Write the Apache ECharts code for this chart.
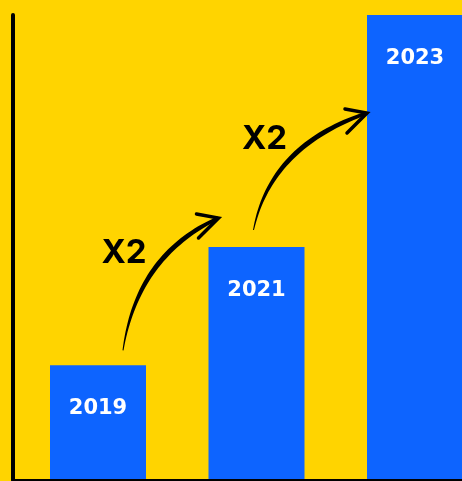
<!DOCTYPE html>
<html>
<head>
<meta charset="utf-8">
<script src="https://cdn.jsdelivr.net/npm/echarts@6/dist/echarts.min.js"></script>
<style>
html,body{margin:0;padding:0;background:#FFD400;}
#c{width:462px;height:481px;}
</style>
</head>
<body>
<div id="c"></div>
<script>
const categories = ['2019', '2021', '2023'];
const values = [24.5, 50, 100];
const multiplierLabels = ['X2', 'X2'];

const chart = echarts.init(document.getElementById('c'), null, {renderer: 'canvas'});

const hiddenAxis = {
  axisLine: {show: false}, axisTick: {show: false},
  axisLabel: {show: false}, splitLine: {show: false}
};

chart.setOption({
  animation: false,
  backgroundColor: '#FFD400',
  grid: [
    {left: 98, right: 47, top: 15, bottom: 2},
    {left: 13, right: 0, top: 15, bottom: 1}
  ],
  xAxis: [
    Object.assign({type: 'category', data: categories, gridIndex: 0, boundaryGap: false}, hiddenAxis),
    Object.assign({type: 'value', gridIndex: 1, min: 0, max: 1, z: 10}, hiddenAxis,
      {axisLine: {show: true, onZero: false, lineStyle: {color: '#000', width: 3}}})
  ],
  yAxis: [
    Object.assign({type: 'value', gridIndex: 0, min: 0, max: 100}, hiddenAxis),
    Object.assign({type: 'value', gridIndex: 1, min: 0, max: 1, z: 10}, hiddenAxis,
      {axisLine: {show: true, onZero: false, lineStyle: {color: '#000', width: 4}}})
  ],
  series: [{
    type: 'bar',
    xAxisIndex: 0, yAxisIndex: 0,
    data: values,
    barWidth: 96,
    clip: false,
    itemStyle: {color: '#0D64FF'},
    label: {
      show: true, position: 'insideTop', distance: 33,
      formatter: '{b}', color: '#fff', fontSize: 21, fontWeight: 'bold',
      fontFamily: 'DejaVu Sans'
    }
  }]
});

// Arrow annotations, anchored to bar tops via the chart's own scales
const arrowStartOffset = [[25, -15], [-3, -17]];
const arrowTipOffset = [[-38, -29], [-48, 98]];
const labelOffset = [[1, -97], [11, -91]];

const graphics = [];
for (let i = 0; i < multiplierLabels.length; i++) {
  const p0 = chart.convertToPixel({gridIndex: 0}, [i, values[i]]);
  const p1 = chart.convertToPixel({gridIndex: 0}, [i + 1, values[i + 1]]);
  const s = [p0[0] + arrowStartOffset[i][0], p0[1] + arrowStartOffset[i][1]];
  const e = [p1[0] + arrowTipOffset[i][0], p1[1] + arrowTipOffset[i][1]];
  const c = [s[0] + 0.15 * (e[0] - s[0]), s[1] + 0.72 * (e[1] - s[1])];
  // tapered stroke polygon
  const N = 40, left = [], right = [];
  for (let k = 0; k <= N; k++) {
    const t = k / N;
    const x = (1 - t) * (1 - t) * s[0] + 2 * (1 - t) * t * c[0] + t * t * e[0];
    const y = (1 - t) * (1 - t) * s[1] + 2 * (1 - t) * t * c[1] + t * t * e[1];
    const dx = 2 * (1 - t) * (c[0] - s[0]) + 2 * t * (e[0] - c[0]);
    const dy = 2 * (1 - t) * (c[1] - s[1]) + 2 * t * (e[1] - c[1]);
    const len = Math.hypot(dx, dy);
    const nx = -dy / len, ny = dx / len;
    const w = (1 + 4 * Math.sin(Math.PI * t * 0.8)) / 2;
    left.push([x + nx * w, y + ny * w]);
    right.unshift([x - nx * w, y - ny * w]);
  }
  graphics.push({
    type: 'polygon', z: 20,
    shape: {points: left.concat(right)},
    style: {fill: '#000'}
  });
  graphics.push({
    type: 'polyline', z: 20,
    shape: {points: [[e[0] - 22, e[1] - 4], [e[0], e[1]], [e[0] - 20, e[1] + 20]]},
    style: {stroke: '#000', lineWidth: 3.5, lineJoin: 'miter', lineCap: 'round', fill: null}
  });
  graphics.push({
    type: 'text', z: 20,
    style: {
      text: multiplierLabels[i],
      x: s[0] + labelOffset[i][0], y: s[1] + labelOffset[i][1],
      fill: '#000', fontSize: 33, fontWeight: 'bold', fontFamily: 'Inter',
      align: 'center', verticalAlign: 'middle'
    }
  });
}
chart.setOption({graphic: graphics});
</script>
</body>
</html>
